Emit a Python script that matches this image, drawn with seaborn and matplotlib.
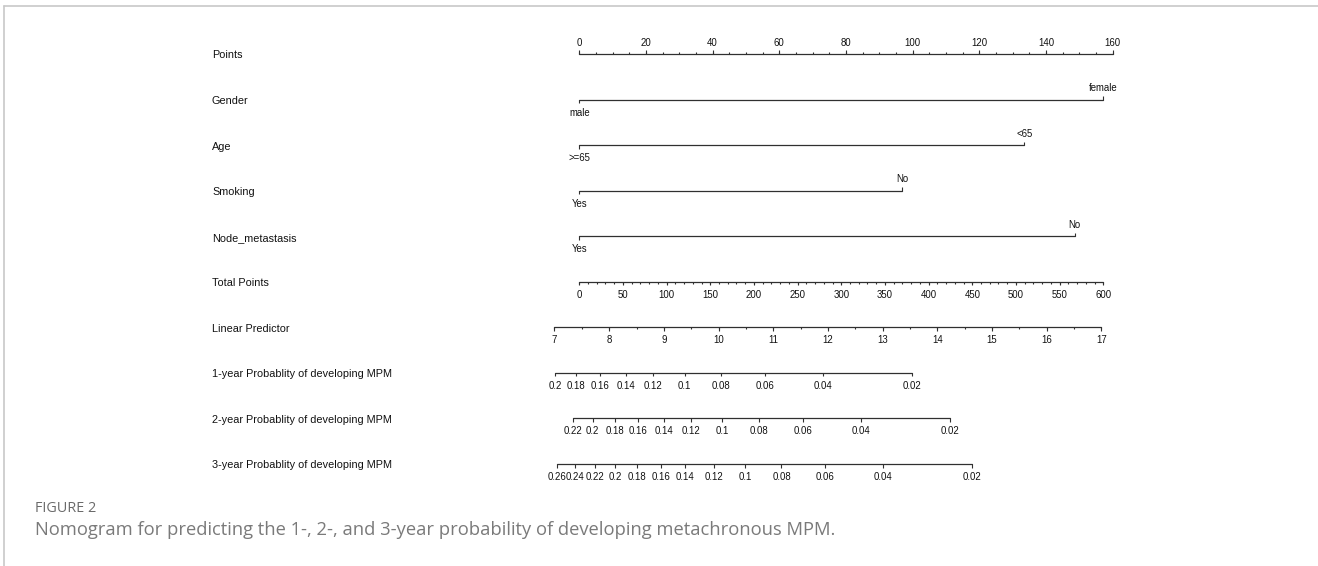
import matplotlib
matplotlib.use("Agg")
import matplotlib.pyplot as plt
import matplotlib.transforms as mtransforms
from matplotlib.lines import Line2D
import numpy as np
import pandas as pd
import seaborn as sns

# ---------------- data ----------------
row_labels = [
    "Points",
    "Gender",
    "Age",
    "Smoking",
    "Node_metastasis",
    "Total Points",
    "Linear Predictor",
    "1-year Probablity of developing MPM",
    "2-year Probablity of developing MPM",
    "3-year Probablity of developing MPM",
]

points_major = [0, 20, 40, 60, 80, 100, 120, 140, 160]
points_minor_step = 5

gender_levels = ["male", "female"]
gender_points = [0, 157.1]
age_levels = [">=65", "<65"]
age_points = [0, 133.5]
smoking_levels = ["Yes", "No"]
smoking_points = [0, 96.8]
node_levels = ["Yes", "No"]
node_points = [0, 148.6]

total_major = [0, 50, 100, 150, 200, 250, 300, 350, 400, 450, 500, 550, 600]
total_minor_step = 10

lp_major = [7, 8, 9, 10, 11, 12, 13, 14, 15, 16, 17]
lp_minor_step = 0.5

# probability labels and the linear predictor value where each falls
prob1_labels = ["0.2", "0.18", "0.16", "0.14", "0.12", "0.1", "0.08", "0.06", "0.04", "0.02"]
prob1_lp = [7.015, 7.40, 7.84, 8.30, 8.81, 9.38, 10.05, 10.85, 11.91, 13.53]
prob2_labels = ["0.22", "0.2", "0.18", "0.16", "0.14", "0.12", "0.1", "0.08", "0.06", "0.04", "0.02"]
prob2_lp = [7.33, 7.70, 8.11, 8.53, 9.00, 9.50, 10.07, 10.74, 11.54, 12.60, 14.23]
prob3_labels = ["0.26", "0.24", "0.22", "0.2", "0.18", "0.16", "0.14", "0.12", "0.1",
                "0.08", "0.06", "0.04", "0.02"]
prob3_lp = [7.04, 7.38, 7.74, 8.11, 8.50, 8.94, 9.39, 9.91, 10.48, 11.15, 11.95, 13.01, 14.63]

# scale calibration: total points and linear predictor onto the points scale
POINTS_PER_TOTAL = 157.2 / 600.0
LP_AT_ZERO_TOTAL = 7.454
LP_PER_TOTAL = 0.015965


def total_to_x(t):
    return np.asarray(t, dtype=float) * POINTS_PER_TOTAL


def lp_to_x(lp):
    return total_to_x((np.asarray(lp, dtype=float) - LP_AT_ZERO_TOTAL) / LP_PER_TOTAL)


# ---------------- figure layout ----------------
W, H, DPI = 1318, 566, 100
X0_PX, PX_PER_POINT = 579.3, 3.333
TOP_PX, ROW_PX = 54.0, 45.55

sns.set_theme(style="white")
plt.rcParams["font.family"] = ["Liberation Sans", "DejaVu Sans"]

fig = plt.figure(figsize=(W / DPI, H / DPI), dpi=DPI)
ax = fig.add_axes([0, 0, 1, 1])


def py(n):
    """pixel distance -> row units"""
    return n / ROW_PX


LINE_C = "#303030"
TEXT_C = "#111111"
TICK_FS = 6.9
MAJOR_LEN = py(3.6)
MINOR_LEN = py(1.9)
LABEL_UP = py(11.5)
LABEL_DOWN = py(13.0)

segments = []


def scale_row(row, xs, labels, minor_xs=None, up=False):
    sgn = -1 if up else 1
    xs = np.asarray(xs, dtype=float)
    segments.append((row, xs.min(), xs.max()))
    ax.vlines(xs, row, row + sgn * MAJOR_LEN, color=LINE_C, lw=0.8)
    if minor_xs is not None:
        ax.vlines(minor_xs, row, row + sgn * MINOR_LEN, color=LINE_C, lw=0.8)
    off = -LABEL_UP if up else LABEL_DOWN
    for x, lab in zip(xs, labels):
        ax.text(x, row + off, lab, ha="center", va="center",
                fontsize=TICK_FS, color=TEXT_C)


def level_row(row, pts, levels):
    pts = np.asarray(pts, dtype=float)
    segments.append((row, pts.min(), pts.max()))
    for k, (x, lab) in enumerate(zip(pts, levels)):
        up = k % 2 == 1
        sgn = -1 if up else 1
        ax.vlines(x, row, row + sgn * MAJOR_LEN, color=LINE_C, lw=0.8)
        off = -LABEL_UP if up else LABEL_DOWN
        ax.text(x, row + off, lab, ha="center", va="center",
                fontsize=TICK_FS, color=TEXT_C)


# Points
pts_minor = np.arange(points_major[0], points_major[-1] + 0.01, points_minor_step)
scale_row(0, points_major, [str(v) for v in points_major], pts_minor, up=True)

# predictors
level_row(1, gender_points, gender_levels)
level_row(2, age_points, age_levels)
level_row(3, smoking_points, smoking_levels)
level_row(4, node_points, node_levels)

# Total points
tot_minor = np.arange(total_major[0], total_major[-1] + 0.01, total_minor_step)
scale_row(5, total_to_x(total_major), [str(v) for v in total_major], total_to_x(tot_minor))

# Linear predictor
lp_minor = np.arange(lp_major[0], lp_major[-1] + 0.01, lp_minor_step)
scale_row(6, lp_to_x(lp_major), [str(v) for v in lp_major], lp_to_x(lp_minor))

# probabilities
scale_row(7, lp_to_x(prob1_lp), prob1_labels)
scale_row(8, lp_to_x(prob2_lp), prob2_labels)
scale_row(9, lp_to_x(prob3_lp), prob3_labels)

# axis baselines
seg_df = pd.DataFrame(
    [(r, x) for r, a, b in segments for x in (a, b)], columns=["row", "x"]
)
sns.lineplot(data=seg_df, x="x", y="row", units="row", estimator=None,
             color=LINE_C, lw=0.9, ax=ax, legend=False)
ax.set_xlim(-X0_PX / PX_PER_POINT, (W - X0_PX) / PX_PER_POINT)
ax.set_ylim((H - TOP_PX) / ROW_PX, -TOP_PX / ROW_PX)
ax.axis("off")

# row names
lab_tr = mtransforms.blended_transform_factory(fig.transFigure, ax.transData)
for i, name in enumerate(row_labels):
    ax.text(212 / W, i + py(1.5), name, transform=lab_tr, ha="left", va="center",
            fontsize=7.85, color=TEXT_C)

# frame lines and caption
fig.add_artist(Line2D([4 / W, 1], [1 - 6 / H, 1 - 6 / H], transform=fig.transFigure,
                      color="#c8c8c8", lw=1.2))
fig.add_artist(Line2D([4 / W, 4 / W], [0, 1 - 6 / H], transform=fig.transFigure,
                      color="#c8c8c8", lw=1.2))
fig.text(35 / W, 1 - 508 / H, "FIGURE 2", ha="left", va="center",
         fontsize=10.4, color="#6a6a6a", family=["Open Sans", "DejaVu Sans"])
fig.text(35 / W, 1 - 530 / H,
         "Nomogram for predicting the 1-, 2-, and 3-year probability of developing metachronous MPM.",
         ha="left", va="center", fontsize=13.2, color="#7a7a7a",
         family=["Open Sans", "DejaVu Sans"])

fig.savefig("out.png", dpi=DPI, facecolor="white")
